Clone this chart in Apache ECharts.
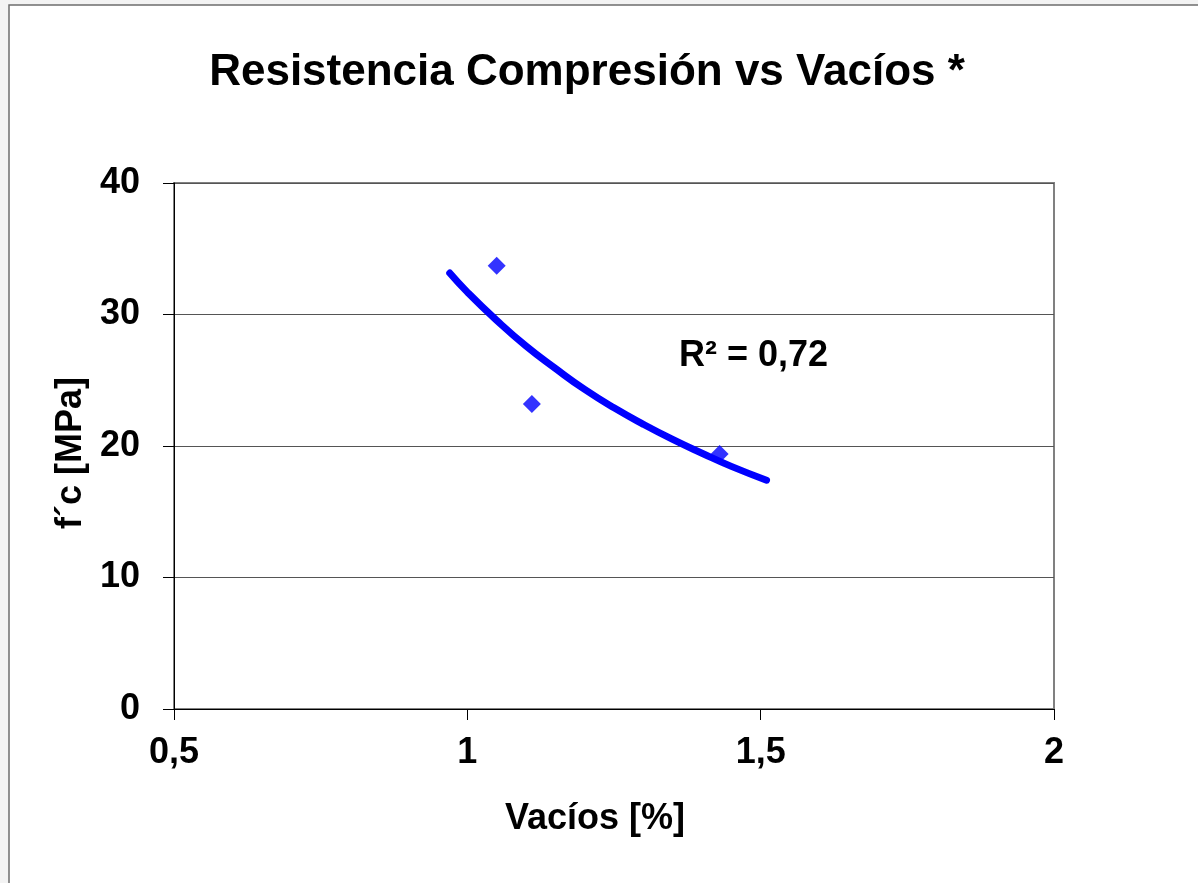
<!DOCTYPE html>
<html>
<head>
<meta charset="utf-8">
<script src="https://cdn.jsdelivr.net/npm/echarts@6/dist/echarts.min.js"></script>
<style>
  html, body { margin: 0; padding: 0; background: #f3f3f3; }
  #main { width: 1198px; height: 883px; }
</style>
</head>
<body>
<div id="main"></div>
<script>
// measured points: vacios [%] and f'c [MPa]
const vacios = [1.05, 1.11, 1.43];
const fc = [33.7, 23.2, 19.4];

// trendline
const trendX = [0.97, 1.0, 1.05, 1.1, 1.15, 1.2, 1.25, 1.3, 1.35, 1.4, 1.45, 1.51];
const trendY = [33.15, 31.7, 29.55, 27.6, 25.9, 24.3, 22.9, 21.65, 20.5, 19.45, 18.45, 17.4];

const xTicks = { min: 0.5, max: 2, step: 0.5 };
const yTicks = { min: 0, max: 40, step: 10 };
const r2Label = "R² = 0,72";

const font = "'Liberation Sans', Arial, sans-serif";
const chart = echarts.init(document.getElementById("main"));

chart.setOption({
  animation: false,
  backgroundColor: "transparent",
  title: {
    text: "Resistencia Compresión vs Vacíos *",
    left: 582,
    textAlign: "center",
    top: 46,
    textStyle: { fontFamily: font, fontSize: 44, fontWeight: "bold", color: "#000" },
  },
  graphic: [
    {
      type: "rect",
      z: -10,
      shape: { x: 9, y: 5, width: 1400, height: 1000 },
      style: { fill: "#fff", stroke: "#6e6e6e", lineWidth: 1.5 },
    },
    {
      type: "text",
      left: 679,
      top: 338,
      style: { text: r2Label, font: "bold 36px " + font, fill: "#000" },
    },
  ],
  grid: {
    left: 174,
    right: 144,
    top: 183,
    bottom: 174,
    show: true,
    borderColor: "#808080",
    borderWidth: 2,
    backgroundColor: "#fff",
  },
  xAxis: {
    type: "value",
    min: xTicks.min,
    max: xTicks.max,
    interval: xTicks.step,
    name: "Vacíos [%]",
    nameLocation: "middle",
    nameGap: 92,
    nameTextStyle: {
      fontFamily: font, fontSize: 36, fontWeight: "bold", color: "#000",
      padding: [0, 38, 0, 0],
    },
    axisLine: { lineStyle: { color: "#000", width: 1 } },
    axisTick: { show: true, length: 11, lineStyle: { color: "#000" } },
    axisLabel: {
      margin: 26,
      fontFamily: font,
      fontSize: 36,
      fontWeight: "bold",
      color: "#000",
      formatter: (v) => String(v).replace(".", ","),
    },
    splitLine: { show: false },
  },
  yAxis: {
    type: "value",
    min: yTicks.min,
    max: yTicks.max,
    interval: yTicks.step,
    name: "f´c [MPa]",
    nameLocation: "middle",
    nameGap: 78,
    nameTextStyle: {
      fontFamily: font, fontSize: 36, fontWeight: "bold", color: "#000",
      padding: [0, 14, 0, 0],
    },
    axisLine: { show: true, lineStyle: { color: "#000", width: 1 } },
    axisTick: { show: true, length: 11, lineStyle: { color: "#000" } },
    axisLabel: {
      margin: 34,
      fontFamily: font,
      fontSize: 36,
      fontWeight: "bold",
      color: "#000",
    },
    splitLine: { show: true, lineStyle: { color: "#555", width: 1 } },
  },
  series: [
    {
      type: "line",
      data: trendX.map((x, i) => [x, trendY[i]]),
      smooth: true,
      showSymbol: false,
      lineStyle: { color: "#0000ff", width: 7, cap: "round" },
      z: 2,
    },
    {
      type: "scatter",
      data: vacios.map((x, i) => [x, fc[i]]),
      symbol: "diamond",
      symbolSize: 18,
      itemStyle: { color: "#0000ff" },
      z: 3,
    },
  ],
});
</script>
</body>
</html>
